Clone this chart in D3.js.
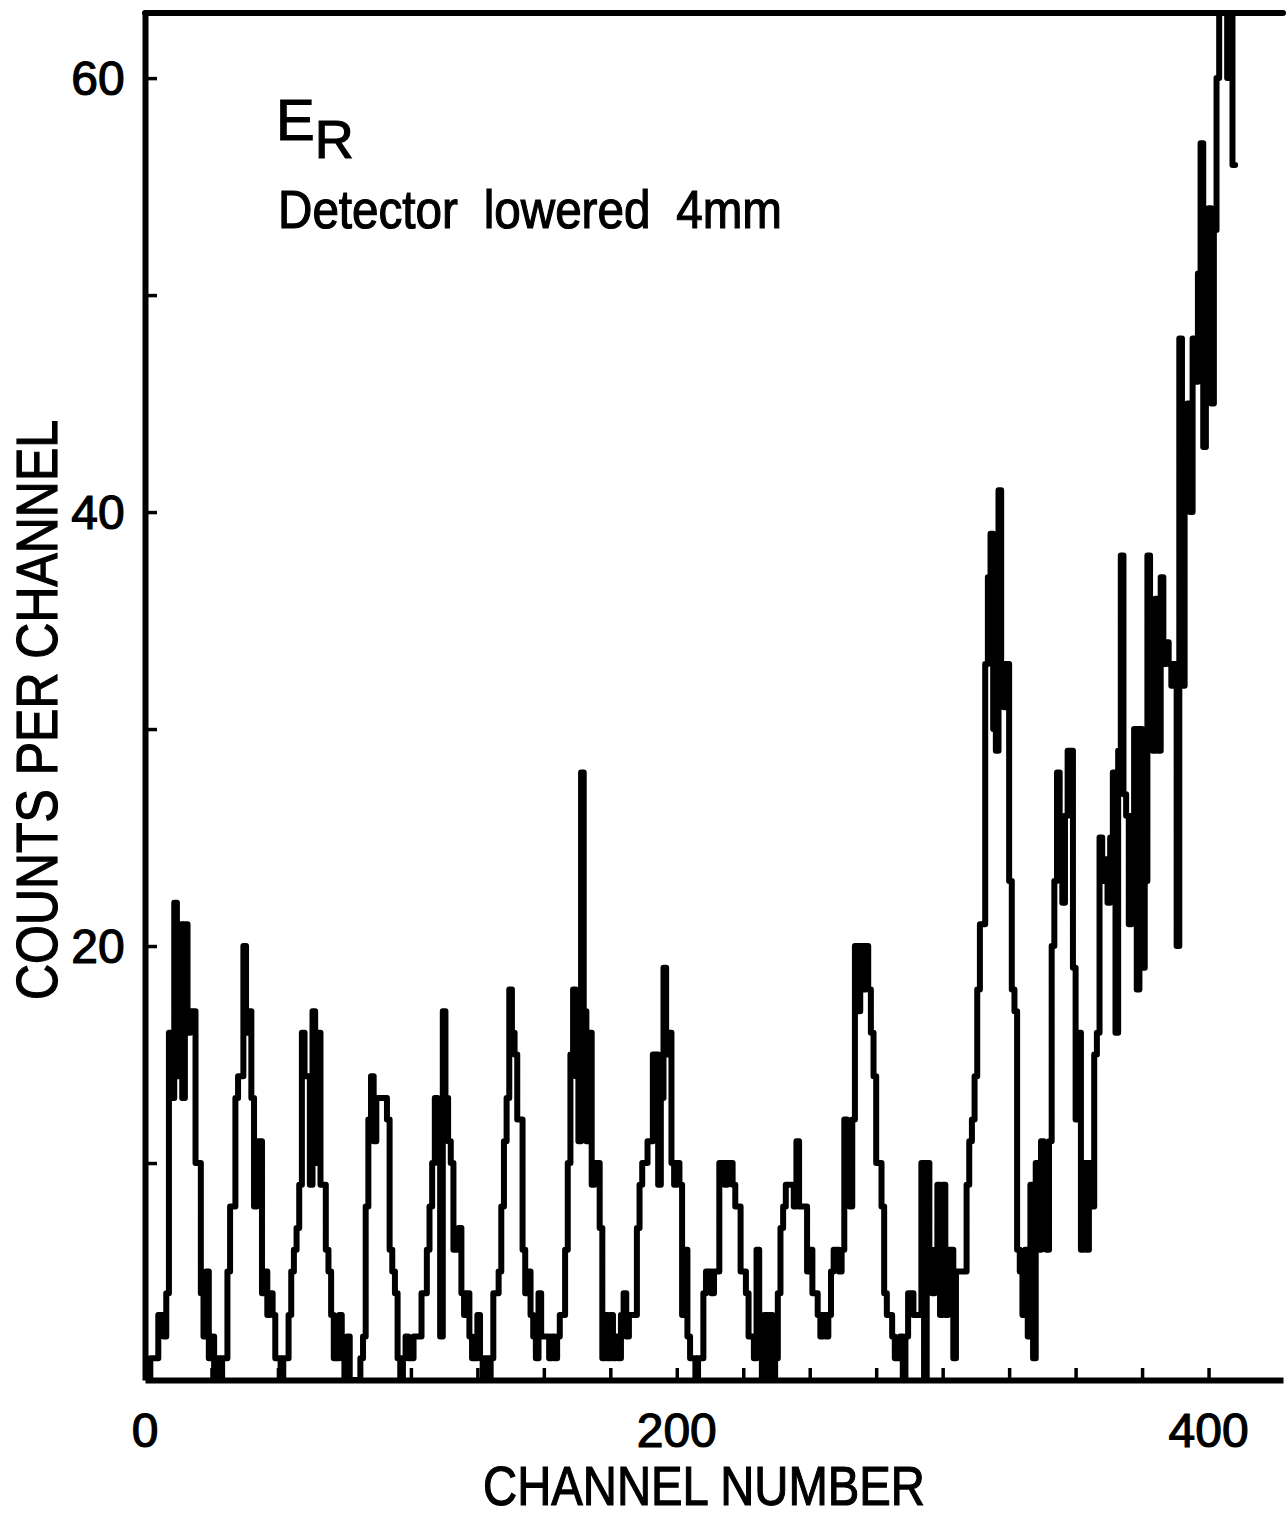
<!DOCTYPE html>
<html>
<head>
<meta charset="utf-8">
<script src="https://cdn.jsdelivr.net/npm/d3@7"></script>
<style>
  body { margin: 0; background: #fff; }
  text { font-family: "Liberation Sans", Arial, sans-serif; fill: #000; stroke: #000; stroke-width: 1.2px; }
</style>
</head>
<body>
<div id="grafica"></div>
<script>
// DATA.
// Counts per channel, channel 0 .. 409.
const counts = [
  0,0,1,1,1,3,3,2,4,16,
  13,22,14,21,13,21,16,17,17,10,
  10,4,2,5,1,2,0,1,0,1,
  1,5,8,8,13,14,14,20,16,17,
  13,8,11,11,4,5,3,4,3,1,
  1,0,1,1,3,5,6,7,9,16,
  14,14,9,17,10,16,9,9,6,5,
  3,1,1,3,1,0,2,0,0,0,
  0,1,2,8,12,14,11,13,13,13,
  13,12,6,5,4,1,0,1,2,1,
  1,2,2,2,4,4,6,8,10,13,
  11,2,17,13,11,10,6,6,7,4,
  3,4,2,1,1,3,1,0,1,0,
  1,4,4,5,8,11,13,18,16,15,
  12,12,6,4,5,3,2,1,4,2,
  2,2,1,2,1,2,3,3,6,10,
  15,18,14,11,28,17,11,16,9,10,
  10,7,1,3,1,3,1,2,1,3,
  4,2,3,3,3,7,9,10,10,11,
  11,15,15,9,13,19,15,16,10,9,
  10,9,3,6,2,1,1,0,1,1,
  4,5,5,4,5,5,10,10,9,10,
  10,9,8,8,5,5,4,2,2,1,
  6,3,0,3,0,3,0,1,4,7,
  8,9,9,9,8,11,8,8,8,5,
  6,4,4,3,2,3,2,3,5,6,
  6,5,6,12,9,8,12,20,17,20,
  18,20,18,16,14,10,10,8,4,3,
  3,2,1,1,2,0,2,4,4,3,
  3,3,10,0,10,6,4,6,9,3,
  9,3,6,6,1,5,5,5,5,9,
  11,12,14,18,21,21,33,37,39,30,
  29,41,33,31,33,23,18,17,6,5,
  3,6,2,9,1,10,6,11,7,6,
  11,20,23,28,25,22,26,29,29,19,
  12,16,6,10,6,10,8,15,16,25,
  23,24,22,25,28,16,29,38,27,26,
  21,26,30,18,30,19,23,38,35,29,
  36,29,37,33,34,33,32,33,20,48,
  32,42,45,40,48,46,51,57,43,53,
  54,45,53,60,64,64,64,60,64,56
];

const yTicks = [10, 20, 30, 40, 50, 60];
const yLabels = [20, 40, 60];
const xTicks = [25, 50, 75, 100, 125, 150, 175, 200, 225, 250, 275, 300, 325, 350, 375, 400];
const xLabels = [0, 200, 400];
const xTitle = "CHANNEL NUMBER";
const yTitle = "COUNTS PER CHANNEL";
const nota = "Detector lowered 4mm";

// SCALES.
const width = 1287, height = 1519;
const x = d3.scaleLinear().domain([0, 428]).range([145, 1283]);
const y = d3.scaleLinear().domain([0, 63]).range([1380, 13]);

const svg = d3.select("#grafica")
  .append("svg")
  .attr("width", width)
  .attr("height", height);

// Histogram, clipped to the frame (it runs off the top at the right).
svg.append("clipPath")
  .attr("id", "area")
  .append("rect")
  .attr("x", x(0))
  .attr("y", y(63))
  .attr("width", x(428) - x(0))
  .attr("height", y(0) - y(63));

const puntos = counts.map((c, i) => [i, c]);
puntos.push([counts.length, counts[counts.length - 1]]);

svg.append("path")
  .datum(puntos)
  .attr("clip-path", "url(#area)")
  .attr("fill", "none")
  .attr("stroke", "#000")
  .attr("stroke-width", 6)
  .attr("stroke-linejoin", "round")
  .attr("stroke-linecap", "round")
  .attr("d", d3.line()
    .x(d => x(d[0]))
    .y(d => y(d[1]))
    .curve(d3.curveStepAfter));

// AXES.
function estiloEje(g) {
  g.select(".domain").attr("stroke", "#000").attr("stroke-width", 6);
  g.selectAll(".tick line").attr("stroke", "#000").attr("stroke-width", 3.5);
}

svg.append("g")
  .attr("transform", `translate(0,${y(0)})`)
  .call(d3.axisBottom(x).tickValues(xTicks).tickSizeInner(-12).tickSizeOuter(0).tickFormat(""))
  .call(estiloEje);

svg.append("g")
  .attr("transform", `translate(${x(0)},0)`)
  .call(d3.axisLeft(y).tickValues(yTicks).tickSizeInner(-12).tickSizeOuter(0).tickFormat(""))
  .call(estiloEje);

// top border
svg.append("line")
  .attr("x1", x(0)).attr("x2", x(428))
  .attr("y1", y(63)).attr("y2", y(63))
  .attr("stroke", "#000")
  .attr("stroke-width", 6)
  .attr("stroke-linecap", "round");

// LABELS.
svg.selectAll(".ylab")
  .data(yLabels).enter()
  .append("text")
  .attr("class", "ylab")
  .attr("x", 98)
  .attr("y", d => y(d))
  .attr("dy", "0.36em")
  .attr("text-anchor", "middle")
  .attr("font-size", 48)
  .text(d => d);

svg.selectAll(".xlab")
  .data(xLabels).enter()
  .append("text")
  .attr("class", "xlab")
  .attr("x", d => x(d))
  .attr("y", 1447)
  .attr("text-anchor", "middle")
  .attr("font-size", 48)
  .text(d => d);

svg.append("text")
  .attr("x", 704)
  .attr("y", 1505)
  .attr("text-anchor", "middle")
  .attr("font-size", 56)
  .attr("textLength", 442)
  .attr("lengthAdjust", "spacingAndGlyphs")
  .text(xTitle);

svg.append("text")
  .attr("transform", "translate(57,710) rotate(-90)")
  .attr("text-anchor", "middle")
  .attr("font-size", 58)
  .attr("textLength", 580)
  .attr("lengthAdjust", "spacingAndGlyphs")
  .text(yTitle);

const er = svg.append("text")
  .attr("x", 276)
  .attr("y", 140)
  .attr("font-size", 58);
er.append("tspan").text("E");
er.append("tspan").attr("dy", 18).attr("font-size", 54).text("R");

svg.append("text")
  .attr("x", 278)
  .attr("y", 228)
  .attr("font-size", 53)
  .attr("word-spacing", 14)
  .attr("textLength", 504)
  .attr("lengthAdjust", "spacingAndGlyphs")
  .text(nota);
</script>
</body>
</html>
